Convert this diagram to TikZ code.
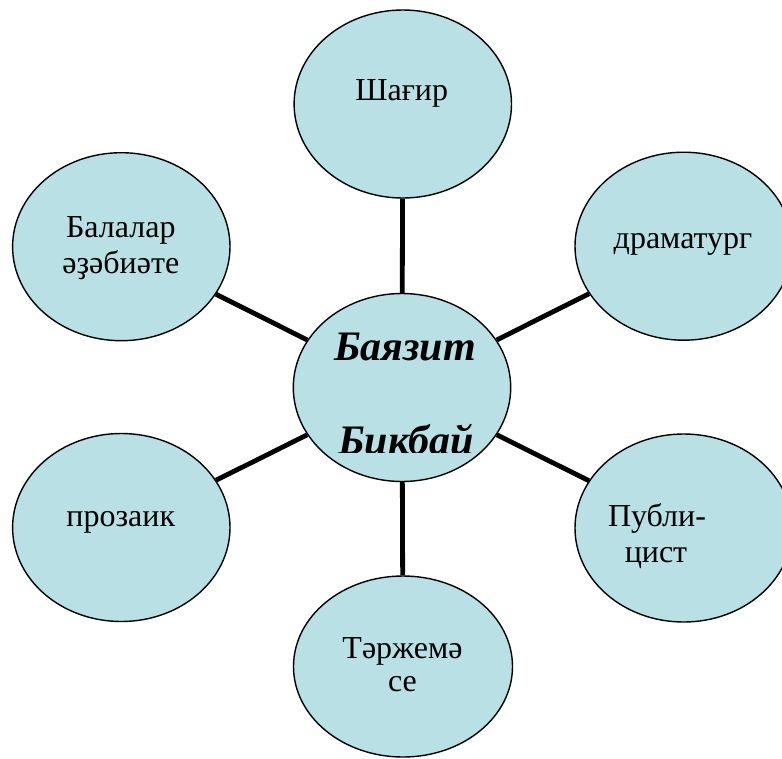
\documentclass[tikz,border=0pt]{standalone}
\usepackage{fontspec}
\setmainfont{Liberation Serif}
\usetikzlibrary{shapes.geometric}
\definecolor{bubble}{RGB}{185,224,228}
\tikzset{
  bubble/.style={ellipse, draw=black, line width=1.4pt, fill=bubble, inner sep=0pt,
    minimum width=217.4pt, minimum height=188pt},
  link/.style={line width=4.8pt, black},
  lbl/.style={anchor=base, inner sep=0pt, font=\fontsize{32}{36}\selectfont},
  big/.style={anchor=base, inner sep=0pt, font=\fontsize{42}{46}\selectfont\bfseries\itshape}
}
\begin{document}
\begin{tikzpicture}[x=1pt,y=-1pt]
\useasboundingbox (0,0) rectangle (782,758);
% bubbles
\node[bubble] (c) at (402,387.5) {};
\node[bubble] (t) at (402.8,104) {};
\node[bubble] (d) at (683.7,246.2) {};
\node[bubble] (p) at (683.7,528) {};
\node[bubble, minimum width=219pt, minimum height=181pt] (b) at (403,666.5) {};
\node[bubble] (l1) at (121.3,246.7) {};
\node[bubble] (l2) at (121.3,527.5) {};
% connectors
\draw[link] (c) -- (t);
\draw[link] (c) -- (d);
\draw[link] (c) -- (p);
\draw[link] (c) -- (b);
\draw[link] (c) -- (l1);
\draw[link] (c) -- (l2);
% labels
\node[lbl] (tt) at (401.7,100) {Шағир};
\node[lbl] (td) at (683,248.3) {драматург};
\node[lbl] (tp1) at (657,526) {Публи-};
\node[lbl] (tp2) at (656,562.7) {цист};
\node[lbl] (tb1) at (402.5,658.3) {Тәржемә};
\node[lbl] (tb2) at (402.5,691.7) {се};
\node[lbl] (tl1a) at (120.8,237.3) {Балалар};
\node[lbl] (tl1b) at (120.8,273.3) {әҙәбиәте};
\node[lbl] (tl2) at (120.8,526) {прозаик};
\node[big] (tc1) at (405,360) {Баязит};
\begin{scope}
\clip (0,0) rectangle (782,452.5);
\node[big] (tc2) at (406,454) {Бикбай};
\end{scope}
\end{tikzpicture}
\end{document}
